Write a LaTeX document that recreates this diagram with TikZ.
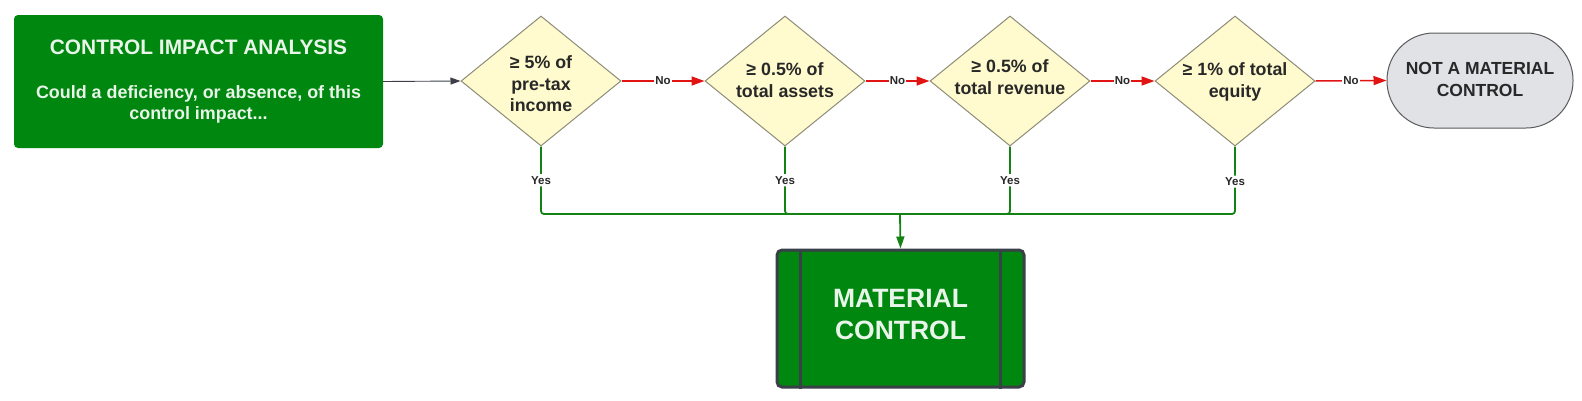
\documentclass[tikz,border=0pt]{standalone}
\usepackage{fontspec}
\setmainfont{Liberation Sans}
\usetikzlibrary{shapes.geometric,arrows.meta}
\definecolor{boxgreen}{RGB}{0,135,15}
\definecolor{lighttext}{RGB}{232,245,232}
\definecolor{diafill}{RGB}{255,251,206}
\definecolor{diaedge}{RGB}{140,140,120}
\definecolor{darktext}{RGB}{40,40,40}
\definecolor{termfill}{RGB}{224,226,230}
\definecolor{termedge}{RGB}{90,90,90}
\definecolor{redline}{RGB}{225,20,20}
\definecolor{greenline}{RGB}{20,130,20}
\definecolor{borderdark}{RGB}{58,64,72}
\definecolor{grayline}{RGB}{60,64,70}
\begin{document}
\begin{tikzpicture}[x=1pt,y=-1pt,
  startbox/.style={rectangle, fill=boxgreen, rounded corners=4pt, minimum width=369pt, minimum height=133pt, inner sep=0pt},
  titletext/.style={text=lighttext, font=\bfseries\fontsize{20.9}{24}\selectfont, align=center, inner sep=0pt},
  subtext/.style={text=lighttext, font=\bfseries\fontsize{17.9}{21}\selectfont, align=center, inner sep=0pt},
  dia/.style={diamond, draw=diaedge, line width=1pt, fill=diafill, minimum width=160pt, minimum height=130pt, inner sep=0pt},
  diatext/.style={text=darktext, font=\bfseries\fontsize{17.8}{21.5}\selectfont, align=center, inner sep=0pt},
  term/.style={rectangle, draw=termedge, line width=1pt, fill=termfill, rounded corners=47pt, minimum width=186pt, minimum height=95pt, inner sep=0pt},
  termtext/.style={text=darktext, font=\bfseries\fontsize{17.5}{22}\selectfont, align=center, inner sep=0pt},
  matbox/.style={rectangle, draw=borderdark, line width=3pt, fill=boxgreen, rounded corners=5pt, minimum width=247pt, minimum height=137pt, inner sep=0pt},
  mattext/.style={text=lighttext, font=\bfseries\fontsize{26.5}{32}\selectfont, align=center, inner sep=0pt},
  grayarrow/.style={draw=grayline, line width=0.9pt, -{Triangle[length=10pt,width=7pt]}},
  redarrow/.style={draw=redline, line width=1.5pt, -{Triangle[length=13pt,width=9pt]}},
  greenconn/.style={draw=greenline, line width=1.8pt, rounded corners=3pt},
  greenarrow/.style={draw=greenline, line width=1.8pt, -{Triangle[length=12pt,width=8pt]}},
  nolabel/.style={fill=white, text=darktext, font=\bfseries\fontsize{11.5}{13}\selectfont, inner sep=1pt},
  yeslabel/.style={fill=white, text=darktext, font=\bfseries\fontsize{11.5}{13}\selectfont, inner xsep=1pt, inner ysep=2pt}
]
\useasboundingbox (0,0) rectangle (1582,400);

% start box
\node[startbox] (start) at (198.5,81.5) {};
\node[titletext] (title) at (198.5,47) {CONTROL IMPACT ANALYSIS};
\node[subtext] (sub) at (198.5,104) {Could a deficiency, or absence, of this\\control impact...};

% diamonds
\node[dia] (d1) at (541,81) {};
\node[diatext] (t1) at (541,84) {≥ 5\% of\\pre-tax\\income};
\node[dia] (d2) at (785,81) {};
\node[diatext] (t2) at (785,80) {≥ 0.5\% of\\total assets};
\node[dia] (d3) at (1010,81) {};
\node[diatext] (t3) at (1010,77) {≥ 0.5\% of\\total revenue};
\node[dia] (d4) at (1235,81) {};
\node[diatext] (t4) at (1235,82) {≥ 1\% of total\\equity};

% terminal
\node[term] (nm) at (1480,80.5) {};
\node[termtext] (nmt) at (1480,79) {NOT A MATERIAL\\CONTROL};

% material control box
\node[matbox] (mc) at (900.5,318.5) {};
\draw[draw=borderdark, line width=3pt] ([xshift=25pt]mc.north west) -- ([xshift=25pt]mc.south west);
\draw[draw=borderdark, line width=3pt] ([xshift=-25pt]mc.north east) -- ([xshift=-25pt]mc.south east);
\node[mattext] (mct) at (900.5,315) {MATERIAL\\CONTROL};

% connectors
\draw[grayarrow] (start.east) -- (d1.west);
\draw[redarrow] (d1.east) -- node[nolabel] (no1) {No} (d2.west);
\draw[redarrow] (d2.east) -- node[nolabel] (no2) {No} (d3.west);
\draw[redarrow] (d3.east) -- node[nolabel] (no3) {No} (d4.west);
\draw[redarrow] (d4.east) -- node[nolabel] (no4) {No} (nm.west);

\coordinate (m) at (900,214);
\draw[greenconn] (d1.south) -- node[yeslabel] (y1) {Yes} (d1.south |- m) -- (m);
\draw[greenconn] (d2.south) -- node[yeslabel] (y2) {Yes} (d2.south |- m) -- (m);
\draw[greenconn] (d3.south) -- node[yeslabel] (y3) {Yes} (d3.south |- m) -- (m);
\draw[greenconn] (d4.south) -- node[yeslabel, pos=0.52] (y4) {Yes} (d4.south |- m) -- (m);
\draw[greenarrow] (m) -- (mc.north);
\end{tikzpicture}
\end{document}
